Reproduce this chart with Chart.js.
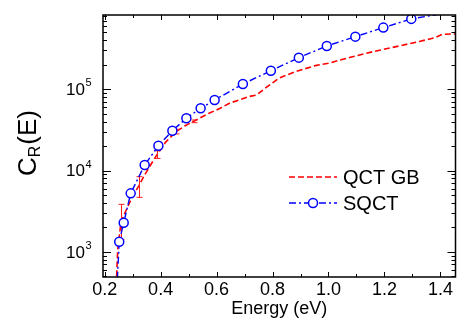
<!DOCTYPE html>
<html>
<head>
<meta charset="utf-8">
<script src="https://cdn.jsdelivr.net/npm/chart.js@4/dist/chart.umd.min.js"></script>
<style>
  html, body { margin: 0; padding: 0; background: #fff; }
  #c { display: block; }
</style>
</head>
<body>
<canvas id="c" width="458" height="320"></canvas>
<script>
// ---- data ----
const seriesNames = ['QCT GB', 'SQCT'];

const qctEnergy = [0.240, 0.2465, 0.2583, 0.2786, 0.3001, 0.3215, 0.343, 0.364, 0.387, 0.418, 0.455, 0.486, 0.518, 0.575, 0.611, 0.646, 0.714, 0.743, 0.774, 0.822, 0.881, 0.953, 1.000, 1.075, 1.164, 1.253, 1.325, 1.378, 1.407, 1.455];
const qctRate   = [300, 1050, 2320, 3360, 4850, 6440, 8810, 11700, 15700, 22400, 30100, 35300, 40400, 51100, 58000, 67300, 81100, 85100, 103000, 136500, 164700, 195400, 209000, 246000, 293000, 341000, 388000, 429000, 475000, 480000];

const errEnergy = [0.2583, 0.3215, 0.387, 0.455, 0.518];
const errLow    = [1410, 4680, 14100, 28200, 38800];
const errHigh   = [3840, 8400, 17500, 32200, 41900];

const sqctEnergy = [0.240, 0.252, 0.268, 0.293, 0.343, 0.392, 0.442, 0.492, 0.543, 0.593, 0.694, 0.794, 0.894, 0.994, 1.096, 1.196, 1.296, 1.396];
const sqctRate   = [200, 1330, 2280, 5240, 11700, 20200, 30900, 44000, 58300, 73800, 116000, 169000, 245000, 341000, 444000, 574000, 734000, 840000];

const xTickValues = [0.2, 0.4, 0.6, 0.8, 1.0, 1.2, 1.4];
const yTickValues = [1e3, 1e4, 1e5];
const yTickExponents = ['3', '4', '5'];
const xRange = [0.194, 1.454];
const yRange = [490, 820000];

// ---- helpers ----
const FONT = "'Liberation Sans', Arial, Helvetica, sans-serif";
const toXY = (xs, ys) => xs.map((x, i) => ({ x: x, y: ys[i] }));

const frameAndTicks = {
  id: 'frameAndTicks',
  afterDraw(chart) {
    const { ctx, chartArea: a, scales } = chart;
    const xs = scales.x, ys = scales.y;
    ctx.save();
    ctx.strokeStyle = '#000';
    ctx.lineWidth = 1;
    // x ticks (bottom + top, inward)
    for (let k = 2; k <= 14; k++) {
      const v = k / 10;
      const px = Math.round(xs.getPixelForValue(v)) + 0.5;
      if (px < a.left || px > a.right) continue;
      const len = (k % 2 === 0) ? 5 : 3;
      ctx.beginPath();
      ctx.moveTo(px, a.bottom); ctx.lineTo(px, a.bottom - len);
      ctx.moveTo(px, a.top); ctx.lineTo(px, a.top + len);
      ctx.stroke();
    }
    // y ticks (left + right, inward), log minors
    for (let e = 2; e <= 5; e++) {
      for (let m = 1; m <= 9; m++) {
        const v = m * Math.pow(10, e);
        if (v < yRange[0] || v > yRange[1]) continue;
        const py = Math.round(ys.getPixelForValue(v)) + 0.5;
        const len = (m === 1) ? 8 : 4;
        ctx.beginPath();
        ctx.moveTo(a.left, py); ctx.lineTo(a.left + len, py);
        ctx.moveTo(a.right, py); ctx.lineTo(a.right - len, py);
        ctx.stroke();
      }
    }
    // frame
    ctx.lineWidth = 1.5;
    ctx.strokeRect(a.left, a.top, a.right - a.left, a.bottom - a.top);

    // y tick labels: 10^n
    ctx.fillStyle = '#000';
    ctx.textBaseline = 'middle';
    yTickValues.forEach((v, i) => {
      const py = ys.getPixelForValue(v);
      ctx.font = '17px ' + FONT;
      ctx.textAlign = 'right';
      ctx.fillText('10', 85, py + 1);
      ctx.font = '11px ' + FONT;
      ctx.textAlign = 'left';
      ctx.fillText(yTickExponents[i], 85.5, py - 6);
    });

    // y axis title C_R(E), rotated
    ctx.save();
    ctx.translate(36, 143);
    ctx.rotate(-Math.PI / 2);
    ctx.textBaseline = 'alphabetic';
    ctx.textAlign = 'left';
    ctx.font = '26px ' + FONT;
    const wC = ctx.measureText('C').width;
    ctx.font = '16px ' + FONT;
    const wR = ctx.measureText('R').width;
    ctx.font = '26px ' + FONT;
    const wE = ctx.measureText('(E)').width;
    const total = wC + wR + wE + 1;
    let x0 = -total / 2;
    ctx.fillText('C', x0, 0);
    ctx.font = '16px ' + FONT;
    ctx.fillText('R', x0 + wC, 4);
    ctx.font = '26px ' + FONT;
    ctx.fillText('(E)', x0 + wC + wR + 1, 0);
    ctx.restore();

    // legend
    const ds = chart.data.datasets;
    const rows = [177, 203];
    const order = [0, 1];
    ctx.font = '20px ' + FONT;
    ctx.textAlign = 'left';
    ctx.textBaseline = 'middle';
    order.forEach((di, r) => {
      const d = ds[di];
      const y = rows[r];
      ctx.save();
      ctx.strokeStyle = d.borderColor;
      ctx.lineWidth = d.borderWidth;
      ctx.setLineDash(d.borderDash);
      ctx.beginPath();
      ctx.moveTo(289, y); ctx.lineTo(337, y);
      ctx.stroke();
      ctx.restore();
      if (d.legendMarker) {
        ctx.save();
        ctx.beginPath();
        ctx.arc(313, y, 4.5, 0, Math.PI * 2);
        ctx.fillStyle = '#fff';
        ctx.fill();
        ctx.strokeStyle = d.borderColor;
        ctx.lineWidth = 1.5;
        ctx.stroke();
        ctx.restore();
      }
      ctx.fillStyle = '#000';
      ctx.fillText(d.label, 343, y + 1);
    });
    ctx.restore();
  }
};

const errorBars = {
  id: 'errorBars',
  afterDatasetDraw(chart, args) {
    if (args.index !== 0) return;
    const { ctx, chartArea: a, scales } = chart;
    ctx.save();
    ctx.beginPath();
    ctx.rect(a.left, a.top, a.right - a.left, a.bottom - a.top);
    ctx.clip();
    ctx.strokeStyle = '#ff2020';
    ctx.lineWidth = 1;
    errEnergy.forEach((e, i) => {
      const px = Math.round(scales.x.getPixelForValue(e)) + 0.5;
      const y1 = scales.y.getPixelForValue(errLow[i]);
      const y2 = scales.y.getPixelForValue(errHigh[i]);
      ctx.beginPath();
      ctx.moveTo(px, y1); ctx.lineTo(px, y2);
      ctx.moveTo(px - 3, y1); ctx.lineTo(px + 3, y1);
      ctx.moveTo(px - 3, y2); ctx.lineTo(px + 3, y2);
      ctx.stroke();
    });
    ctx.restore();
  }
};

new Chart(document.getElementById('c'), {
  type: 'scatter',
  data: {
    datasets: [
      {
        label: seriesNames[0],
        data: toXY(qctEnergy, qctRate),
        showLine: true,
        borderColor: '#ff0000',
        backgroundColor: '#ff0000',
        borderWidth: 1.6,
        borderDash: [6, 3],
        pointRadius: 0,
        tension: 0,
        order: 1
      },
      {
        label: seriesNames[1],
        data: toXY(sqctEnergy, sqctRate),
        showLine: true,
        borderColor: '#0000ff',
        backgroundColor: '#ffffff',
        borderWidth: 1.4,
        borderDash: [7, 3, 2, 3],
        pointRadius: (c) => (c.raw && (c.raw.y < yRange[0] || c.raw.y > yRange[1] * 1.01)) ? 0 : 4.5,
        pointBorderWidth: 1.5,
        pointBorderColor: '#0000ff',
        pointBackgroundColor: '#ffffff',
        tension: 0,
        order: 0,
        legendMarker: true
      }
    ]
  },
  options: {
    responsive: false,
    devicePixelRatio: 1,
    animation: false,
    layout: { padding: { left: 0, top: 15, right: 2.5, bottom: 0 } },
    plugins: { legend: { display: false }, tooltip: { enabled: false } },
    scales: {
      x: {
        type: 'linear',
        min: xRange[0],
        max: xRange[1],
        afterBuildTicks: (s) => { s.ticks = xTickValues.map(v => ({ value: v })); },
        afterFit: (s) => { s.height = 43; },
        grid: { display: false, drawTicks: false },
        border: { display: false },
        ticks: {
          color: '#000',
          font: { family: FONT, size: 18 },
          padding: 2,
          maxRotation: 0,
          autoSkip: false,
          callback: (v) => Number(v).toFixed(1)
        },
        title: {
          display: true,
          text: 'Energy (eV)',
          color: '#000',
          font: { family: FONT, size: 18 },
          padding: { top: 0, bottom: 0 }
        }
      },
      y: {
        type: 'logarithmic',
        min: yRange[0],
        max: yRange[1],
        afterBuildTicks: (s) => { s.ticks = yTickValues.map(v => ({ value: v })); },
        afterFit: (s) => { s.width = 103; },
        grid: { display: false, drawTicks: false },
        border: { display: false },
        ticks: { display: false }
      }
    }
  },
  plugins: [errorBars, frameAndTicks]
});
</script>
</body>
</html>
